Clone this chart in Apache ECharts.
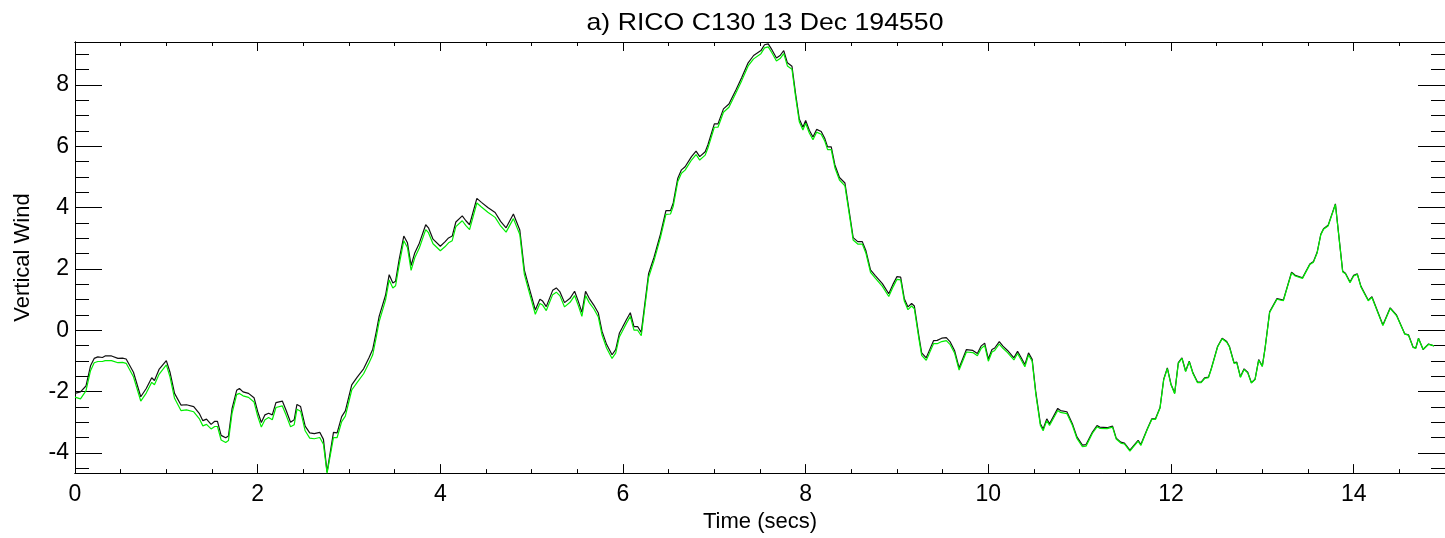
<!DOCTYPE html>
<html>
<head>
<meta charset="utf-8">
<title>RICO C130 13 Dec 194550</title>
<script src="https://cdn.jsdelivr.net/npm/echarts@6/dist/echarts.min.js"></script>
<style>
  html, body { margin: 0; padding: 0; background: #fff; }
  #chart { width: 1445px; height: 538px; }
</style>
</head>
<body>
<div id="chart"></div>
<script>
// Time axis samples (seconds)
const timeSecs = [
  0.00, 0.06, 0.12, 0.17, 0.21, 0.25, 0.30, 0.33, 0.40, 0.47, 0.52, 0.56, 0.64, 0.72, 0.78, 0.84, 0.87, 0.92,
  1.00, 1.04, 1.09, 1.16, 1.22, 1.30, 1.36, 1.40, 1.44, 1.49, 1.53, 1.56, 1.60, 1.65, 1.68, 1.72, 1.77, 1.80, 1.84, 1.90, 1.96,
  2.00, 2.04, 2.08, 2.12, 2.16, 2.20, 2.27, 2.31, 2.36, 2.40, 2.43, 2.47, 2.52, 2.57, 2.62, 2.68, 2.72, 2.76, 2.83, 2.87, 2.92, 2.96,
  3.03, 3.09, 3.16, 3.22, 3.26, 3.30, 3.33, 3.40, 3.44, 3.48, 3.51, 3.55, 3.60, 3.64, 3.68, 3.72, 3.77, 3.84, 3.87, 3.92,
  4.00, 4.05, 4.09, 4.13, 4.17, 4.19, 4.24, 4.28, 4.32, 4.40, 4.45, 4.52, 4.60, 4.66, 4.72, 4.80, 4.87, 4.92, 4.96,
  5.04, 5.09, 5.12, 5.16, 5.23, 5.27, 5.31, 5.36, 5.42, 5.47, 5.51, 5.55, 5.59, 5.63, 5.68, 5.73, 5.77, 5.82, 5.88, 5.92, 5.96, 5.99,
  6.04, 6.08, 6.12, 6.16, 6.20, 6.28, 6.34, 6.41, 6.47, 6.52, 6.55, 6.60, 6.64, 6.68, 6.75, 6.80, 6.84, 6.90, 6.93,
  7.00, 7.04, 7.10, 7.16, 7.24, 7.30, 7.37, 7.43, 7.51, 7.55, 7.59, 7.63, 7.68, 7.72, 7.76, 7.80, 7.85, 7.89, 7.93, 7.97,
  8.00, 8.04, 8.08, 8.12, 8.17, 8.21, 8.24, 8.28, 8.32, 8.37, 8.43, 8.49, 8.52, 8.57, 8.62, 8.66, 8.71, 8.76, 8.84, 8.91, 8.96,
  9.00, 9.04, 9.08, 9.12, 9.16, 9.19, 9.24, 9.27, 9.32, 9.35, 9.40, 9.44, 9.49, 9.54, 9.58, 9.63, 9.68, 9.76, 9.83, 9.88, 9.92, 9.96,
  10.00, 10.04, 10.07, 10.12, 10.16, 10.21, 10.28, 10.32, 10.36, 10.40, 10.44, 10.48, 10.52, 10.57, 10.60, 10.64, 10.67, 10.76, 10.79, 10.86, 10.92, 10.97,
  11.03, 11.07, 11.14, 11.19, 11.22, 11.30, 11.36, 11.40, 11.45, 11.49, 11.55, 11.64, 11.67, 11.74, 11.79, 11.83, 11.88, 11.92, 11.96,
  12.00, 12.04, 12.08, 12.12, 12.16, 12.20, 12.24, 12.29, 12.33, 12.37, 12.41, 12.44, 12.49, 12.51, 12.56, 12.61, 12.64, 12.69, 12.72, 12.76, 12.80, 12.84, 12.88, 12.92, 12.96,
  13.00, 13.03, 13.08, 13.16, 13.23, 13.32, 13.36, 13.44, 13.52, 13.56, 13.60, 13.64, 13.67, 13.72, 13.80, 13.88, 13.91, 13.96,
  14.00, 14.04, 14.08, 14.14, 14.16, 14.20, 14.32, 14.40, 14.47, 14.56, 14.60, 14.65, 14.68, 14.71, 14.76, 14.82, 14.88
];

// Vertical wind, black trace
const windBlack = [
  -2.06, -2.01, -1.82, -1.16, -0.92, -0.87, -0.89, -0.84, -0.84, -0.92, -0.91, -0.94, -1.37, -2.17, -1.90, -1.55, -1.64, -1.28,
  -0.99, -1.37, -2.06, -2.44, -2.43, -2.49, -2.71, -2.95, -2.90, -3.07, -2.97, -2.97, -3.43, -3.51, -3.45, -2.55, -1.96, -1.90, -2.01, -2.06, -2.20,
  -2.65, -3.01, -2.76, -2.71, -2.76, -2.36, -2.31, -2.60, -3.00, -2.92, -2.42, -2.49, -3.13, -3.35, -3.37, -3.33, -3.56, -4.63, -3.33, -3.35, -2.82, -2.63,
  -1.78, -1.53, -1.26, -0.89, -0.62, -0.03, 0.45, 1.14, 1.81, 1.54, 1.60, 2.32, 3.07, 2.85, 2.11, 2.52, 2.84, 3.44, 3.34, 2.97,
  2.74, 2.88, 3.01, 3.07, 3.53, 3.55, 3.73, 3.57, 3.44, 4.30, 4.17, 4.00, 3.84, 3.55, 3.34, 3.79, 3.27, 1.96, 1.52,
  0.66, 1.01, 0.95, 0.77, 1.30, 1.38, 1.25, 0.90, 1.04, 1.27, 0.95, 0.58, 1.27, 1.04, 0.82, 0.56, -0.03, -0.46, -0.80, -0.63, -0.10, 0.07,
  0.36, 0.57, 0.12, 0.12, -0.07, 1.84, 2.38, 3.13, 3.90, 3.90, 4.15, 4.96, 5.23, 5.33, 5.66, 5.84, 5.66, 5.82, 6.05,
  6.73, 6.73, 7.22, 7.38, 7.86, 8.24, 8.72, 8.96, 9.12, 9.31, 9.34, 9.15, 8.88, 8.96, 9.12, 8.72, 8.61, 7.70, 6.89, 6.62,
  6.84, 6.52, 6.30, 6.55, 6.48, 6.25, 5.98, 5.98, 5.39, 4.98, 4.80, 3.62, 3.02, 2.89, 2.89, 2.59, 1.97, 1.79, 1.52, 1.19, 1.52,
  1.75, 1.73, 1.03, 0.76, 0.87, 0.79, -0.20, -0.74, -0.90, -0.69, -0.34, -0.33, -0.26, -0.24, -0.37, -0.66, -1.23, -0.63, -0.66, -0.76, -0.52, -0.42,
  -0.94, -0.63, -0.58, -0.37, -0.52, -0.66, -0.90, -0.69, -0.90, -1.12, -0.74, -0.95, -2.03, -3.05, -3.22, -2.89, -3.05, -2.55, -2.62, -2.66, -3.05, -3.48,
  -3.75, -3.73, -3.32, -3.11, -3.16, -3.18, -3.13, -3.52, -3.65, -3.68, -3.91, -3.59, -3.73, -3.22, -2.89, -2.89, -2.52, -1.60, -1.23,
  -1.76, -2.05, -1.06, -0.90, -1.33, -1.01, -1.39, -1.69, -1.69, -1.55, -1.53, -1.26, -0.74, -0.53, -0.26, -0.37, -0.53, -1.06, -1.04, -1.52, -1.26, -1.37, -1.71, -1.60, -0.96,
  -1.17, -0.58, 0.60, 1.03, 0.98, 1.89, 1.79, 1.71, 2.16, 2.24, 2.54, 3.13, 3.31, 3.42, 4.12, 1.92, 1.86, 1.57,
  1.79, 1.84, 1.43, 1.09, 0.98, 1.09, 0.17, 0.73, 0.49, -0.12, -0.15, -0.55, -0.58, -0.26, -0.63, -0.45, -0.51
];

// Vertical wind, green trace
const windGreen = [
  -2.18, -2.24, -1.98, -1.32, -1.06, -1.02, -1.02, -0.99, -0.99, -1.06, -1.05, -1.08, -1.52, -2.31, -2.05, -1.70, -1.78, -1.44,
  -1.13, -1.52, -2.22, -2.62, -2.60, -2.66, -2.88, -3.12, -3.07, -3.22, -3.14, -3.14, -3.58, -3.66, -3.60, -2.70, -2.10, -2.06, -2.14, -2.19, -2.34,
  -2.80, -3.16, -2.92, -2.85, -2.92, -2.52, -2.47, -2.76, -3.15, -3.08, -2.58, -2.64, -3.28, -3.52, -3.54, -3.50, -3.72, -4.66, -3.50, -3.50, -2.98, -2.80,
  -1.95, -1.70, -1.42, -1.06, -0.80, -0.20, 0.28, 0.98, 1.64, 1.38, 1.45, 2.15, 2.92, 2.70, 1.95, 2.36, 2.68, 3.28, 3.18, 2.82,
  2.59, 2.72, 2.85, 2.92, 3.38, 3.40, 3.57, 3.41, 3.28, 4.15, 4.02, 3.85, 3.68, 3.40, 3.20, 3.64, 3.12, 1.82, 1.38,
  0.52, 0.87, 0.82, 0.64, 1.16, 1.24, 1.12, 0.76, 0.91, 1.13, 0.81, 0.45, 1.13, 0.90, 0.70, 0.43, -0.15, -0.58, -0.92, -0.75, -0.22, -0.05,
  0.24, 0.45, 0.00, 0.00, -0.18, 1.72, 2.27, 3.02, 3.78, 3.79, 4.04, 4.85, 5.12, 5.22, 5.55, 5.73, 5.55, 5.71, 5.94,
  6.62, 6.62, 7.11, 7.27, 7.76, 8.14, 8.62, 8.85, 9.02, 9.21, 9.24, 9.05, 8.78, 8.86, 9.02, 8.62, 8.51, 7.61, 6.80, 6.53,
  6.75, 6.43, 6.21, 6.46, 6.39, 6.16, 5.89, 5.89, 5.30, 4.90, 4.71, 3.54, 2.94, 2.81, 2.81, 2.51, 1.89, 1.71, 1.43, 1.10, 1.43,
  1.66, 1.64, 0.95, 0.67, 0.79, 0.70, -0.28, -0.82, -0.98, -0.78, -0.44, -0.44, -0.37, -0.34, -0.46, -0.74, -1.30, -0.71, -0.73, -0.83, -0.60, -0.50,
  -1.01, -0.71, -0.66, -0.45, -0.59, -0.73, -0.97, -0.76, -0.97, -1.19, -0.81, -1.01, -2.09, -3.11, -3.28, -2.95, -3.11, -2.62, -2.68, -2.72, -3.10, -3.53,
  -3.80, -3.78, -3.36, -3.15, -3.20, -3.21, -3.16, -3.55, -3.68, -3.71, -3.94, -3.62, -3.76, -3.24, -2.91, -2.91, -2.54, -1.62, -1.25,
  -1.78, -2.07, -1.08, -0.92, -1.35, -1.03, -1.41, -1.71, -1.71, -1.57, -1.55, -1.28, -0.76, -0.55, -0.28, -0.39, -0.55, -1.08, -1.06, -1.54, -1.28, -1.39, -1.72, -1.61, -0.98,
  -1.18, -0.60, 0.58, 1.01, 0.96, 1.87, 1.77, 1.69, 2.14, 2.22, 2.52, 3.11, 3.29, 3.40, 4.10, 1.90, 1.84, 1.55,
  1.77, 1.82, 1.41, 1.07, 0.96, 1.07, 0.15, 0.71, 0.47, -0.13, -0.16, -0.56, -0.59, -0.27, -0.62, -0.46, -0.51
];

// Tick positions
const majorTicksX = [0, 2, 4, 6, 8, 10, 12, 14];
const minorTicksX = [0.5, 1, 1.5, 2.5, 3, 3.5, 4.5, 5, 5.5, 6.5, 7, 7.5, 8.5, 9, 9.5, 10.5, 11, 11.5, 12.5, 13, 13.5, 14.5];
const majorTicksY = [-4, -2, 0, 2, 4, 6, 8];
const minorTicksY = [-4.5, -3.5, -3, -2.5, -1.5, -1, -0.5, 0.5, 1, 1.5, 2.5, 3, 3.5, 4.5, 5, 5.5, 6.5, 7, 7.5, 8.5, 9];

const X_MIN = 0, X_MAX = 15;
const Y_MIN = -4.66, Y_MAX = 9.40;

const FONT = '"Liberation Sans", Arial, Helvetica, sans-serif';
const INK = '#000';

// Frame axis: line on one side of the plot, ticks pointing inward
function frameAxis(position, min, max, ticks, len, opts) {
  return Object.assign({
    type: 'value', position: position, min: min, max: max,
    axisLine: { show: true, onZero: false, lineStyle: { color: INK, width: 1 } },
    axisTick: { show: true, inside: true, length: len, customValues: ticks, lineStyle: { color: INK, width: 1 } },
    axisLabel: { show: false },
    splitLine: { show: false }
  }, opts || {});
}

const chart = echarts.init(document.getElementById('chart'), null, { renderer: 'canvas' });

chart.setOption({
  animation: false,
  backgroundColor: '#ffffff',
  graphic: [{
    type: 'text',
    x: 765, y: 11,
    scaleX: 1.11,
    style: {
      text: 'a) RICO C130 13 Dec 194550',
      fill: INK,
      font: '24px ' + FONT,
      align: 'center',
      verticalAlign: 'top'
    }
  }],
  grid: { left: 75, top: 42, width: 1380, height: 436, containLabel: false },
  xAxis: [
    frameAxis('bottom', X_MIN, X_MAX, majorTicksX, 9, {
      name: 'Time (secs)', nameLocation: 'middle', nameGap: 26,
      nameTextStyle: { color: INK, fontSize: 22, fontFamily: FONT },
      axisLabel: { show: true, customValues: majorTicksX, margin: 10, color: INK, fontSize: 23, fontFamily: FONT }
    }),
    frameAxis('bottom', X_MIN, X_MAX, minorTicksX, 4),
    frameAxis('top', X_MIN, X_MAX, majorTicksX, 9),
    frameAxis('top', X_MIN, X_MAX, minorTicksX, 4)
  ],
  yAxis: [
    frameAxis('left', Y_MIN, Y_MAX, majorTicksY, 27, {
      name: 'Vertical Wind', nameLocation: 'middle', nameGap: 41, nameRotate: 90,
      nameTextStyle: { color: INK, fontSize: 22, fontFamily: FONT },
      axisLabel: { show: true, customValues: majorTicksY, margin: 6, color: INK, fontSize: 23, fontFamily: FONT }
    }),
    frameAxis('left', Y_MIN, Y_MAX, minorTicksY, 14),
    frameAxis('right', Y_MIN, Y_MAX, majorTicksY, 27),
    frameAxis('right', Y_MIN, Y_MAX, minorTicksY, 14)
  ],
  series: [
    {
      name: 'w1', type: 'line', xAxisIndex: 0, yAxisIndex: 0,
      data: timeSecs.map((t, i) => [t, windBlack[i]]),
      showSymbol: false, symbol: 'none', z: 2,
      lineStyle: { color: '#111111', width: 1.2 },
      clip: true
    },
    {
      name: 'w2', type: 'line', xAxisIndex: 0, yAxisIndex: 0,
      data: timeSecs.map((t, i) => [t, windGreen[i]]),
      showSymbol: false, symbol: 'none', z: 3,
      lineStyle: { color: '#00ee00', width: 1.2 },
      clip: true
    }
  ]
});
</script>
</body>
</html>
